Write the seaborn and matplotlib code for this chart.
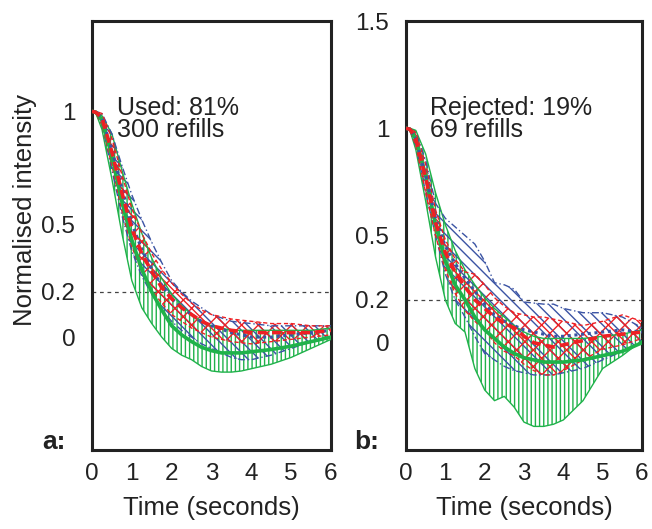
import numpy as np
import pandas as pd
import matplotlib
matplotlib.use("Agg")
import matplotlib.pyplot as plt
import seaborn as sns

# %%
# time grid (seconds), shared by both panels
time = [0, 0.1, 0.25, 0.5, 0.75, 1, 1.25, 1.5, 1.75, 2, 2.25, 2.5, 2.75,
        3, 3.25, 3.5, 3.75, 4, 4.5, 5, 5.5, 6]

# panel a: used refills
a_green_mean = [1, 0.995, 0.96, 0.8, 0.6, 0.43, 0.3, 0.2, 0.12, 0.05, 0.01, -0.02, -0.045,
                -0.06, -0.07, -0.07, -0.07, -0.065, -0.055, -0.04, -0.02, 0.0]
a_green_lo = [1, 0.99, 0.92, 0.7, 0.46, 0.25, 0.13, 0.06, 0.0, -0.05, -0.08, -0.1, -0.13,
              -0.15, -0.155, -0.155, -0.15, -0.14, -0.12, -0.09, -0.05, -0.01]
a_green_hi = [1, 1.0, 0.98, 0.9, 0.74, 0.59, 0.46, 0.35, 0.26, 0.19, 0.14, 0.1, 0.07,
              0.05, 0.04, 0.03, 0.03, 0.03, 0.03, 0.03, 0.03, 0.04]
a_blue_mean = [1, 0.995, 0.97, 0.83, 0.66, 0.5, 0.39, 0.3, 0.23, 0.17, 0.13, 0.1, 0.07,
               0.05, 0.035, 0.02, 0.01, 0.0, 0.0, 0.01, 0.02, 0.03]
a_blue_lo = [1, 0.99, 0.94, 0.74, 0.54, 0.38, 0.27, 0.19, 0.12, 0.07, 0.03, 0.0, -0.03,
             -0.05, -0.07, -0.09, -0.1, -0.1, -0.08, -0.05, -0.02, 0.0]
a_blue_hi = [1, 1.0, 0.99, 0.9, 0.76, 0.63, 0.52, 0.42, 0.33, 0.25, 0.2, 0.16, 0.13,
             0.1, 0.085, 0.07, 0.065, 0.06, 0.05, 0.05, 0.05, 0.05]
a_red_mean = [1, 0.995, 0.97, 0.82, 0.64, 0.48, 0.37, 0.29, 0.22, 0.17, 0.13, 0.1, 0.07,
              0.05, 0.04, 0.03, 0.025, 0.02, 0.02, 0.02, 0.02, 0.03]
a_red_lo = [1, 0.99, 0.94, 0.76, 0.56, 0.4, 0.29, 0.21, 0.15, 0.1, 0.07, 0.04, 0.02,
            0.0, -0.01, -0.02, -0.025, -0.03, -0.02, -0.01, 0.0, 0.01]
a_red_hi = [1, 1.0, 0.99, 0.88, 0.72, 0.57, 0.46, 0.37, 0.3, 0.24, 0.19, 0.15, 0.12,
            0.1, 0.09, 0.08, 0.075, 0.07, 0.06, 0.06, 0.05, 0.05]

# panel b: rejected refills
b_green_mean = [1, 0.995, 0.95, 0.78, 0.55, 0.38, 0.27, 0.2, 0.12, 0.06, 0.02, -0.02, -0.05,
                -0.07, -0.08, -0.09, -0.09, -0.09, -0.08, -0.06, -0.04, 0.0]
b_green_lo = [1, 0.99, 0.9, 0.66, 0.4, 0.2, 0.09, 0.05, -0.12, -0.22, -0.27, -0.25, -0.3,
              -0.37, -0.39, -0.39, -0.38, -0.36, -0.27, -0.12, -0.06, 0.01]
b_green_hi = [1, 1.0, 0.99, 0.88, 0.7, 0.55, 0.43, 0.34, 0.27, 0.21, 0.16, 0.12, 0.08,
              0.05, 0.03, 0.02, 0.02, 0.02, 0.02, 0.03, 0.04, 0.06]
b_blue_mean = [1, 0.995, 0.95, 0.78, 0.58, 0.45, 0.37, 0.3, 0.24, 0.18, 0.13, 0.1, 0.08,
               0.06, 0.05, 0.04, 0.03, 0.03, 0.04, 0.05, 0.06, 0.05]
b_blue_lo = [1, 0.99, 0.92, 0.7, 0.5, 0.32, 0.2, 0.12, 0.03, -0.05, -0.08, -0.11, -0.13,
             -0.14, -0.15, -0.15, -0.15, -0.14, -0.12, -0.08, -0.04, 0.0]
b_blue_hi = [1, 1.0, 0.98, 0.85, 0.65, 0.58, 0.54, 0.5, 0.46, 0.38, 0.28, 0.27, 0.25,
             0.19, 0.185, 0.18, 0.18, 0.16, 0.14, 0.14, 0.12, 0.07]
b_red_mean = [1, 0.995, 0.95, 0.77, 0.56, 0.42, 0.33, 0.26, 0.2, 0.16, 0.12, 0.09, 0.07,
              0.03, 0.0, -0.01, -0.02, -0.01, 0.01, 0.03, 0.04, 0.05]
b_red_lo = [1, 0.99, 0.92, 0.7, 0.5, 0.34, 0.23, 0.15, 0.1, 0.06, 0.0, -0.04, -0.06,
            -0.1, -0.13, -0.15, -0.15, -0.13, -0.08, -0.03, -0.01, 0.02]
b_red_hi = [1, 1.0, 0.98, 0.83, 0.62, 0.48, 0.39, 0.33, 0.32, 0.27, 0.21, 0.17, 0.14,
            0.13, 0.12, 0.12, 0.11, 0.1, 0.08, 0.1, 0.13, 0.1]

panel_text = ["Used: 81%\n300 refills", "Rejected: 19%\n69 refills"]
panel_tag = ["a:", "b:"]
x_ticks = [0, 1, 2, 3, 4, 5, 6]
a_yticks = [0, 0.2, 0.5, 1]
b_yticks = [0, 0.2, 0.5, 1, 1.5]

# %%
sns.set_style("white")
plt.rcParams["font.family"] = ["Liberation Sans", "DejaVu Sans"]
plt.rcParams["hatch.linewidth"] = 1.0

GREEN = "#1fb24a"
BLUE = "#3b54a4"
RED = "#ee2024"
INK = "#222222"

# blue uses 3 backslashes so its lines do not sit under the red cross-hatch
style = {
    "green": dict(color=GREEN, hatch="||||", edge="-", mean="-", mean_lw=2.6),
    "blue": dict(color=BLUE, hatch="\\\\\\", edge=(0, (5, 2, 1, 2)), mean=(0, (1, 1.2)), mean_lw=2.2),
    "red": dict(color=RED, hatch="xx", edge=(0, (3, 2)), mean=(0, (2.5, 1.5)), mean_lw=2.6),
}

panels = [
    {"green": (a_green_mean, a_green_lo, a_green_hi),
     "blue": (a_blue_mean, a_blue_lo, a_blue_hi),
     "red": (a_red_mean, a_red_lo, a_red_hi)},
    {"green": (b_green_mean, b_green_lo, b_green_hi),
     "blue": (b_blue_mean, b_blue_lo, b_blue_hi),
     "red": (b_red_mean, b_red_lo, b_red_hi)},
]

fig = plt.figure(figsize=(6.52, 5.29), dpi=100)
ax_a = fig.add_axes([92 / 652, 79 / 529, 239 / 652, 429 / 529])
ax_b = fig.add_axes([406 / 652, 79 / 529, 236 / 652, 429 / 529])
axes = [ax_a, ax_b]
ylims = [(-0.5, 1.4), (-0.5, 1.5)]
yticks = [a_yticks, b_yticks]

for i, ax in enumerate(axes):
    ax.axhline(0.2, color="#444444", lw=0.9, ls=(0, (3, 3)), zorder=1)
    for name in ["green", "blue", "red"]:
        mean, lo, hi = panels[i][name]
        st = style[name]
        ax.fill_between(time, lo, hi, facecolor="none", edgecolor=st["color"],
                        hatch=st["hatch"], linewidth=0, zorder=2)
        ax.plot(time, lo, color=st["color"], lw=1.0, ls=st["edge"], zorder=3)
        ax.plot(time, hi, color=st["color"], lw=1.0, ls=st["edge"], zorder=3)
        df = pd.DataFrame({"t": time, "y": mean})
        sns.lineplot(data=df, x="t", y="y", ax=ax, color=st["color"],
                     lw=st["mean_lw"], linestyle=st["mean"], zorder=4)

    ax.set_xlim(0, 6)
    ax.set_ylim(*ylims[i])
    ax.set_xticks(x_ticks)
    ax.set_yticks(yticks[i])
    ax.set_yticklabels([f"{v:g}" for v in yticks[i]])
    ax.tick_params(direction="in", length=4, width=1.8, labelsize=17.5, pad=9,
                   colors=INK)
    ax.tick_params(axis="y", pad=12)
    for sp in ax.spines.values():
        sp.set_linewidth(2.2)
        sp.set_color(INK)
    ax.set_xlabel("Time (seconds)", fontsize=18.5, labelpad=8, color=INK)
    ax.set_ylabel("")
    ax.text(0.103, 0.826, panel_text[i], transform=ax.transAxes, fontsize=18,
            va="top", ha="left", linespacing=0.92, color=INK)

fig.text(42 / 652, 1 - 449 / 529, panel_tag[0], fontsize=19, fontweight="bold",
         ha="left", va="baseline", color=INK)
fig.text(354 / 652, 1 - 449 / 529, panel_tag[1], fontsize=19, fontweight="bold",
         ha="left", va="baseline", color=INK)
fig.text(25 / 652, 1 - 210 / 529, "Normalised intensity", fontsize=18.5,
         rotation=90, ha="center", va="center", color=INK)

fig.savefig("out.png", dpi=100)
